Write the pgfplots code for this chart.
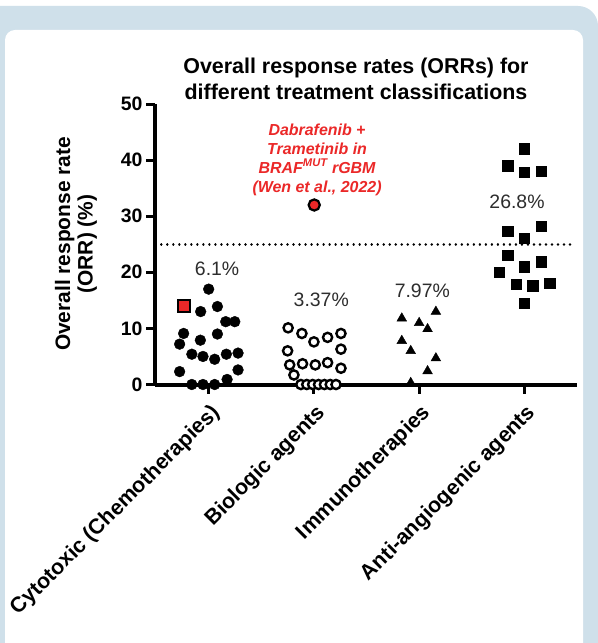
\documentclass[border=0pt]{standalone}
\usepackage{pgfplots}
\pgfplotsset{compat=1.18}
\usepackage{fontspec}
\setmainfont{Liberation Sans}
\definecolor{panelblue}{RGB}{207,224,234}
\definecolor{hlred}{RGB}{235,40,40}
\definecolor{labgray}{RGB}{45,45,45}

\begin{document}
\begin{tikzpicture}[x=1bp,y=1bp]
\useasboundingbox (0,0) rectangle (598,-643);
\fill[white] (0,0) rectangle (598,-643);
\begin{scope}
  \clip (0,0) rectangle (598,-643);
  \fill[panelblue, rounded corners=20bp] (-30,-6) rectangle (598,-700);
  \fill[white, rounded corners=10bp] (5,-30) rectangle (583,-700);
\end{scope}

% title and y label
\node[font=\bfseries\fontsize{21.5}{26}\selectfont, align=center] at (356,-79)
  {Overall response rates (ORRs) for\\different treatment classifications};
\node[rotate=90, font=\bfseries\fontsize{21}{22.5}\selectfont, align=center] at (76,-244)
  {Overall response rate\\(ORR) (\%)};

\begin{axis}[
  at={(155bp,-384.5bp)}, anchor=south west,
  scale only axis, width=422bp, height=280.5bp,
  xmin=0.49, xmax=4.5, ymin=0, ymax=50,
  axis lines=left,
  axis line style={line width=4bp, -},
  tick style={line width=3bp, black},
  major tick length=9bp,
  tick align=outside,
  xtick={1,2,3,4},
  xticklabels={Cytotoxic (Chemotherapies), Biologic agents, Immunotherapies, Anti-angiogenic agents},
  ytick={0,10,...,50},
  /pgf/number format/assume math mode=true,
  yticklabel style={font=\bfseries\fontsize{19.5}{20}\selectfont},
  xticklabel style={font=\bfseries\fontsize{21.5}{22}\selectfont,
    xshift=1bp, yshift=-9bp, rotate=45, anchor=north east, inner sep=0pt},
  clip=false,
]
% threshold line
\addplot[black, line width=2.6bp, line cap=round, dash pattern=on 0.01bp off 6bp]
  coordinates {(0.55,25) (4.46,25)};

% cytotoxic
\addplot[only marks, mark=*, mark size=5.4bp, black] coordinates {
  (1.000,17.0) (0.924,13.0) (1.083,13.9) (1.162,11.2) (1.248,11.2)
  (0.762,9.1) (1.083,9.0) (0.921,7.9) (0.724,7.2) (0.840,5.4)
  (0.946,5.0) (1.057,4.5) (1.168,5.4) (1.279,5.6) (0.724,2.3)
  (1.279,2.6) (1.175,0.9) (0.840,0) (0.946,0) (1.057,0)};
\addplot[only marks, mark=square*, mark size=5.8bp,
  mark options={fill=hlred, draw=black, line width=1.6bp}] coordinates {(0.765,14.0)};

% biologic
\addplot[only marks, mark=*, mark size=4.6bp,
  mark options={fill=white, draw=black, line width=2.4bp}] coordinates {
  (1.755,10.1) (1.886,9.1) (2.000,7.6) (2.130,8.4) (2.257,9.1)
  (1.750,6.0) (2.257,6.3) (1.770,3.5) (1.892,3.7) (2.013,3.5)
  (2.130,3.9) (2.257,2.9) (1.810,1.7)
  (1.876,0) (1.932,0) (1.988,0) (2.044,0) (2.100,0) (2.155,0) (2.210,0)};
\addplot[only marks, mark=*, mark size=5.6bp,
  mark options={fill=hlred, draw=black, line width=2.2bp}] coordinates {(2.003,32.0)};

% immunotherapies
\addplot[only marks, mark=triangle*, mark size=5.6bp, black] coordinates {
  (3.159,13.0) (2.835,11.8) (3.000,11.0) (3.080,9.9) (2.835,7.8)
  (2.920,6.0) (3.159,4.7) (3.080,2.4) (2.920,0.3)};

% anti-angiogenic
\addplot[only marks, mark=square*, mark size=5.2bp, black] coordinates {
  (4.000,42.0) (3.840,39.0) (4.000,37.8) (4.160,38.0) (3.840,27.3)
  (4.160,28.2) (4.000,26.1) (3.840,23.1) (4.160,21.9) (3.760,20.0)
  (4.000,21.0) (3.920,17.9) (4.080,17.6) (4.240,18.1) (4.000,14.5)};

% percentages
\begin{scope}[font=\fontsize{19.5}{20}\selectfont, text=labgray]
\node at (axis cs:1.08,20.6) {6.1\%};
\node at (axis cs:2.07,15.1) {3.37\%};
\node at (axis cs:3.03,16.75) {7.97\%};
\node at (axis cs:3.93,32.5) {26.8\%};
\end{scope}
\node[align=center, text=hlred, font=\bfseries\itshape\fontsize{16}{19}\selectfont]
  at (axis cs:2.03,40.1) {Dabrafenib +\\Trametinib in\\BRAF\textsuperscript{MUT} rGBM\\(Wen et al., 2022)};
\end{axis}
\end{tikzpicture}
\end{document}
